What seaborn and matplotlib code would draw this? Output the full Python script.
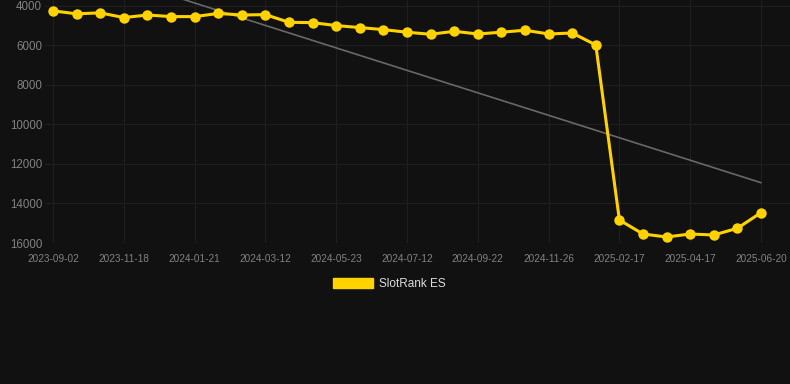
import numpy as np
import pandas as pd
import matplotlib
matplotlib.use('Agg')
import matplotlib.pyplot as plt
import seaborn as sns
from matplotlib.patches import Patch

# ── data ──────────────────────────────────────────────────────────
dates = [
    '2023-09-02', '2023-09-28', '2023-10-23', '2023-11-18', '2023-12-09',
    '2023-12-30', '2024-01-21', '2024-02-07', '2024-02-24', '2024-03-12',
    '2024-04-05', '2024-04-29', '2024-05-23', '2024-06-09', '2024-06-26',
    '2024-07-12', '2024-08-05', '2024-08-29', '2024-09-22', '2024-10-14',
    '2024-11-04', '2024-11-26', '2024-12-24', '2025-01-21', '2025-02-17',
    '2025-03-08', '2025-03-28', '2025-04-17', '2025-05-08', '2025-05-29',
    '2025-06-20',
]
ranks = [
    4250, 4400, 4350, 4590, 4460, 4540, 4540, 4380, 4460, 4440,
    4830, 4845, 4995, 5095, 5200, 5330, 5435, 5285, 5420, 5330,
    5230, 5420, 5370, 5975, 14835, 15545, 15695, 15545, 15595, 15255,
    14465,
]
y_ticks = [4000, 6000, 8000, 10000, 12000, 14000, 16000]
series_name = 'SlotRank ES'

bg = '#111111'
yellow = '#FFD200'

df = pd.DataFrame({'idx': np.arange(len(dates)), 'date': dates, 'rank': ranks})
# linear trend over the whole series
coef = np.polyfit(df['idx'], df['rank'], 1)
df['trend'] = np.polyval(coef, df['idx'])

sns.set_style('dark')
plt.rcParams['font.family'] = ['Liberation Sans', 'DejaVu Sans']

fig = plt.figure(figsize=(7.9, 3.84), dpi=100, facecolor=bg)
ax = fig.add_axes([45 / 790, 1 - 243 / 384, 1 - 45 / 790, 243 / 384])
ax.set_facecolor(bg)

sns.lineplot(data=df, x='idx', y='trend', ax=ax, color='#686868', linewidth=1.2, zorder=2)
sns.lineplot(data=df, x='idx', y='rank', ax=ax, color=yellow, linewidth=2.2,
             marker='o', markersize=7.5, markeredgewidth=0, zorder=3)

ax.set_ylim(16000, 3700)
ax.set_xlim(-0.34, 31.23)
ax.set_yticks(y_ticks)
ax.set_yticklabels([str(v) for v in y_ticks])
ax.set_xticks(df['idx'][::3])
ax.set_xticklabels(df['date'][::3])
ax.set_xlabel('')
ax.set_ylabel('')

ax.tick_params(axis='y', colors='#828282', labelsize=8.3, length=0, pad=2)
ax.tick_params(axis='x', colors='#828282', labelsize=7.2, length=0, pad=8)
ax.grid(True, color='#1f1f1f', linewidth=0.8)
for s in ax.spines.values():
    s.set_visible(False)

handles = [Patch(facecolor=yellow, edgecolor=yellow, label=series_name)]
fig.legend(handles=handles, loc='center', bbox_to_anchor=(0.4925, 1 - 284 / 384),
           frameon=False, handlelength=3.4, handleheight=1.0, handletextpad=0.5,
           labelcolor='#dddddd', fontsize=8.5)

fig.savefig('out.png', dpi=100, facecolor=bg)
